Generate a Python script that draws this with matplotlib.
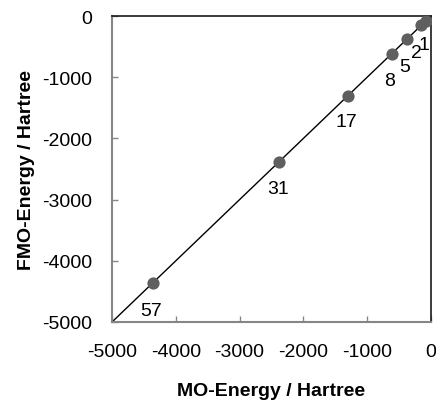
import matplotlib
matplotlib.use("Agg")
import matplotlib.pyplot as plt

labels = ["1", "2", "5", "8", "17", "31", "57"]
mo_energy = [-76, -153, -382, -614, -1305, -2380, -4355]
fmo_energy = [-76, -153, -382, -614, -1305, -2380, -4355]
line_x = [-5000, 0]
line_y = [-5000, 0]
ticks = [-5000, -4000, -3000, -2000, -1000, 0]

plt.rcParams['font.family'] = ['Liberation Sans', 'DejaVu Sans']
plt.rcParams['axes.unicode_minus'] = False

fig = plt.figure(figsize=(4.36, 4.02), dpi=100)
ax = fig.add_axes([112/436, 1 - 323/402, (431-112)/436, (323-17)/402])

ax.plot(line_x, line_y, color='black', lw=1.0, zorder=2)
ax.plot(mo_energy, fmo_energy, 'o', color='#5f5f5f', ms=8.8, mec='none', zorder=3)

offsets = {"1": (-2, -24), "2": (-5, -27), "5": (-2, -27), "8": (-2, -27),
           "17": (-1, -26), "31": (-1, -27), "57": (-2, -28)}
for lab, x, y in zip(labels, mo_energy, fmo_energy):
    ax.annotate(lab, (x, y), xytext=offsets[lab], textcoords='offset pixels',
                ha='center', va='center', fontsize=14, color='black')

ax.set_xlim(-5000, 0)
ax.set_ylim(-5000, 0)
ax.set_xticks(ticks)
ax.set_yticks(ticks)
ax.tick_params(direction='in', length=4, width=1, color='#868686', labelsize=14)
ax.tick_params(axis='x', pad=15)
ax.tick_params(axis='y', pad=14)
for s in ['left', 'bottom']:
    ax.spines[s].set_color('#868686')
    ax.spines[s].set_linewidth(1.5)
for s in ['top', 'right']:
    ax.spines[s].set_color('#1a1a1a')
    ax.spines[s].set_linewidth(1.2)

ax.set_xlabel('MO-Energy / Hartree', fontsize=14, fontweight='bold', labelpad=16)
ax.set_ylabel('FMO-Energy / Hartree', fontsize=14, fontweight='bold', labelpad=5)

fig.savefig('out.png', dpi=100)
